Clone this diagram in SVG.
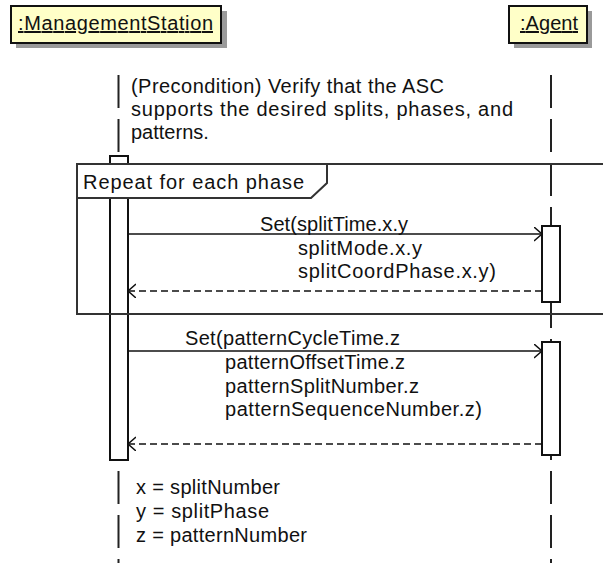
<svg xmlns="http://www.w3.org/2000/svg" width="603" height="563" viewBox="0 0 603 563">
<style>
  text { font-family: "Liberation Sans", Arial, sans-serif; font-size: 20px; fill: #111; }
  .hdr { fill: #ffffc8; stroke: #111; stroke-width: 2; }
  .shadow { fill: #9a9a9a; }
  .life { stroke: #222; stroke-width: 2; stroke-dasharray: 33 11; fill: none; }
  .act { fill: #fff; stroke: #111; stroke-width: 2; }
  .msg { stroke: #111; stroke-width: 1.5; fill: none; }
  .ret { stroke: #111; stroke-width: 1.5; fill: none; stroke-dasharray: 7 4; }
  .frame { stroke: #333; stroke-width: 2; fill: none; }
  .u { text-decoration: underline; }
</style>
<defs>
  <marker id="open" markerWidth="10" markerHeight="16" refX="8" refY="7" orient="auto" markerUnits="userSpaceOnUse">
    <path d="M0,0 L8,7 L0,14" fill="none" stroke="#111" stroke-width="1.5"/>
  </marker>
</defs>
<rect width="603" height="563" fill="#fff"/>

<g id="ManagementStation">
  <rect class="shadow" x="16" y="11" width="211" height="37"/>
  <rect class="hdr" x="11" y="6" width="210" height="37"/>
  <text class="u" x="18" y="30" textLength="195" lengthAdjust="spacing">:ManagementStation</text>
  <line class="life" x1="118.5" y1="75" x2="118.5" y2="563"/>
  <rect class="act" x="110" y="156" width="18" height="304"/>
</g>

<g id="Agent">
  <rect class="shadow" x="514" y="11" width="78" height="37"/>
  <rect class="hdr" x="509" y="6" width="78" height="37"/>
  <text class="u" x="520" y="30" textLength="58" lengthAdjust="spacing">:Agent</text>
  <line class="life" x1="551" y1="75" x2="551" y2="563"/>
  <rect class="act" x="542" y="226" width="18" height="76"/>
  <rect class="act" x="542" y="342" width="18" height="113"/>
</g>

<g id="precondition">
  <text x="131" y="93" textLength="313" lengthAdjust="spacing">(Precondition) Verify that the ASC</text>
  <text x="131" y="116" textLength="382" lengthAdjust="spacing">supports the desired splits, phases, and</text>
  <text x="131" y="139">patterns.</text>
</g>

<g id="loop">
  <rect class="frame" x="77" y="164" width="540" height="150"/>
  <path d="M77,164 L327,164 L327,183 L311,198 L77,198 Z" fill="#fff" stroke="#333" stroke-width="2"/>
  <text x="83" y="189" textLength="221" lengthAdjust="spacing">Repeat for each phase</text>
</g>

<g id="connectors">
  <line class="msg" x1="128" y1="234" x2="542" y2="234" marker-end="url(#open)"/>
  <text x="260" y="231" textLength="148" lengthAdjust="spacing">Set(splitTime.x.y</text>
  <text x="298" y="255" textLength="124" lengthAdjust="spacing">splitMode.x.y</text>
  <text x="298" y="278" textLength="198" lengthAdjust="spacing">splitCoordPhase.x.y)</text>
  <line class="ret" x1="542" y1="291" x2="128" y2="291" marker-end="url(#open)"/>

  <line class="msg" x1="128" y1="351" x2="542" y2="351" marker-end="url(#open)"/>
  <text x="185" y="345" textLength="215" lengthAdjust="spacing">Set(patternCycleTime.z</text>
  <text x="225" y="369" textLength="180" lengthAdjust="spacing">patternOffsetTime.z</text>
  <text x="225" y="393" textLength="194" lengthAdjust="spacing">patternSplitNumber.z</text>
  <text x="225" y="416" textLength="257" lengthAdjust="spacing">patternSequenceNumber.z)</text>
  <line class="ret" x1="542" y1="444" x2="128" y2="444" marker-end="url(#open)"/>
</g>

<g id="legend">
  <text x="136" y="494" textLength="144" lengthAdjust="spacing">x = splitNumber</text>
  <text x="136" y="518" textLength="133" lengthAdjust="spacing">y = splitPhase</text>
  <text x="136" y="542" textLength="171" lengthAdjust="spacing">z = patternNumber</text>
</g>
</svg>
